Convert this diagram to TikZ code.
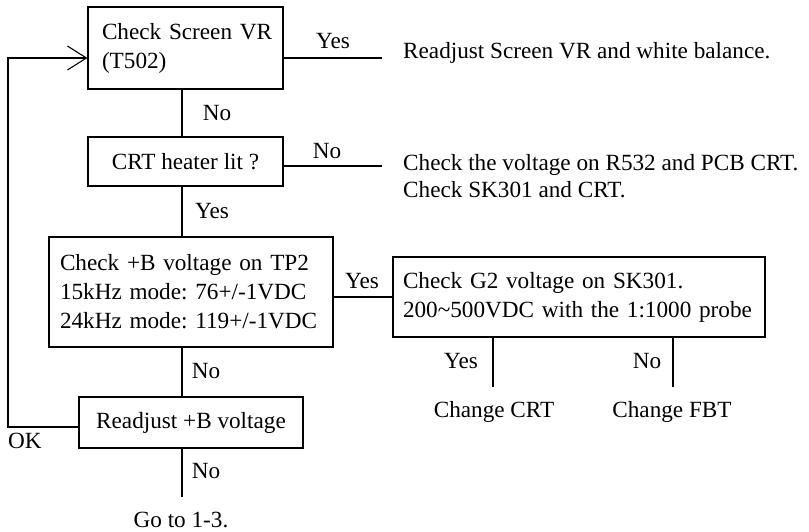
\documentclass[tikz,border=0pt]{standalone}
\usepackage{fontspec}
\setmainfont{Liberation Serif}
\usetikzlibrary{arrows.meta}
\frenchspacing
\hbadness=10000 \hfuzz=50pt
\begin{document}
\begin{tikzpicture}[x=1pt,y=-1pt,
  every node/.style={font=\fontsize{23.2}{29}\selectfont, inner sep=0pt},
  box/.style={draw, line width=1.1pt},
  conn/.style={line width=1.1pt},
  lbl/.style={anchor=base},
  txt/.style={anchor=base west}]
\useasboundingbox (0,0) rectangle (809,531);
% boxes
\node[box, minimum width=195pt, minimum height=82pt, inner xsep=14pt, text width=167pt, align=left] (b1) at (185.5,48) {\mbox{Check Screen VR}\\(T502)};
\node[box, minimum width=195pt, minimum height=49pt, align=center] (b2) at (185.5,161.5) {CRT heater lit ?};
\node[box, minimum width=284pt, minimum height=110pt, inner xsep=11pt, text width=262pt, align=left] (b3) at (191,292) {Check +B voltage on TP2\\15kHz mode: 76+/-1VDC\\24kHz mode: 119+/-1VDC};
\node[box, minimum width=372pt, minimum height=80pt, inner xsep=10pt, text width=352pt, align=left] (b4) at (579,297) {Check G2 voltage on SK301.\\200\textasciitilde500VDC with the 1:1000 probe};
\node[box, minimum width=224pt, minimum height=51pt, align=center] (b5) at (191,422.5) {Readjust +B voltage};
% helper coordinates
\coordinate (spine) at (182,0);
\coordinate (r1) at (382,58);
\coordinate (r2) at (382,166);
\coordinate (c1) at (493,387);
\coordinate (c2) at (673,387);
\coordinate (lp1) at (8,427);
\coordinate (lp2) at (8,58);
\coordinate (e1) at (182,497);
% connectors
\draw[conn] (b1.south -| spine) -- (b2.north -| spine);
\draw[conn] (b2.south -| spine) -- (b3.north -| spine);
\draw[conn] (b3.south -| spine) -- (b5.north -| spine);
\draw[conn] (b5.south -| spine) -- (e1);
\draw[conn] (b1.east |- r1) -- (r1);
\draw[conn] (b2.east |- r2) -- (r2);
\draw[conn] (b4.west -| b3.east) -- (b4.west);
\draw[conn] (b4.south -| c1) -- (c1);
\draw[conn] (b4.south -| c2) -- (c2);
\draw[conn, -{Straight Barb[length=19pt,width=24pt]}] (b5.west |- lp1) -- (lp1) -- (lp2) -- (b1.west |- lp2);
% outcome texts
\node[txt] (t1) at (403,58) {Readjust Screen VR and white balance.};
\node[txt] (t2) at (403,170) {Check the voltage on R532 and PCB CRT.};
\node[txt] (t3) at (403,197) {Check SK301 and CRT.};
\node[lbl] (t4) at (494,417) {Change CRT};
\node[lbl] (t5) at (672,417) {Change FBT};
\node[lbl] (t6) at (181,527) {Go to 1-3.};
% labels
\node[lbl] (l1) at (333,48) {Yes};
\node[lbl] (l2) at (217,120) {No};
\node[lbl] (l3) at (327,158) {No};
\node[lbl] (l4) at (212,218) {Yes};
\node[lbl] (l5) at (362,288) {Yes};
\node[lbl] (l6) at (206,378) {No};
\node[lbl] (l7) at (25,448) {OK};
\node[lbl] (l8) at (206,478) {No};
\node[lbl] (l9) at (461,368) {Yes};
\node[lbl] (l10) at (647,368) {No};
\end{tikzpicture}
\end{document}
